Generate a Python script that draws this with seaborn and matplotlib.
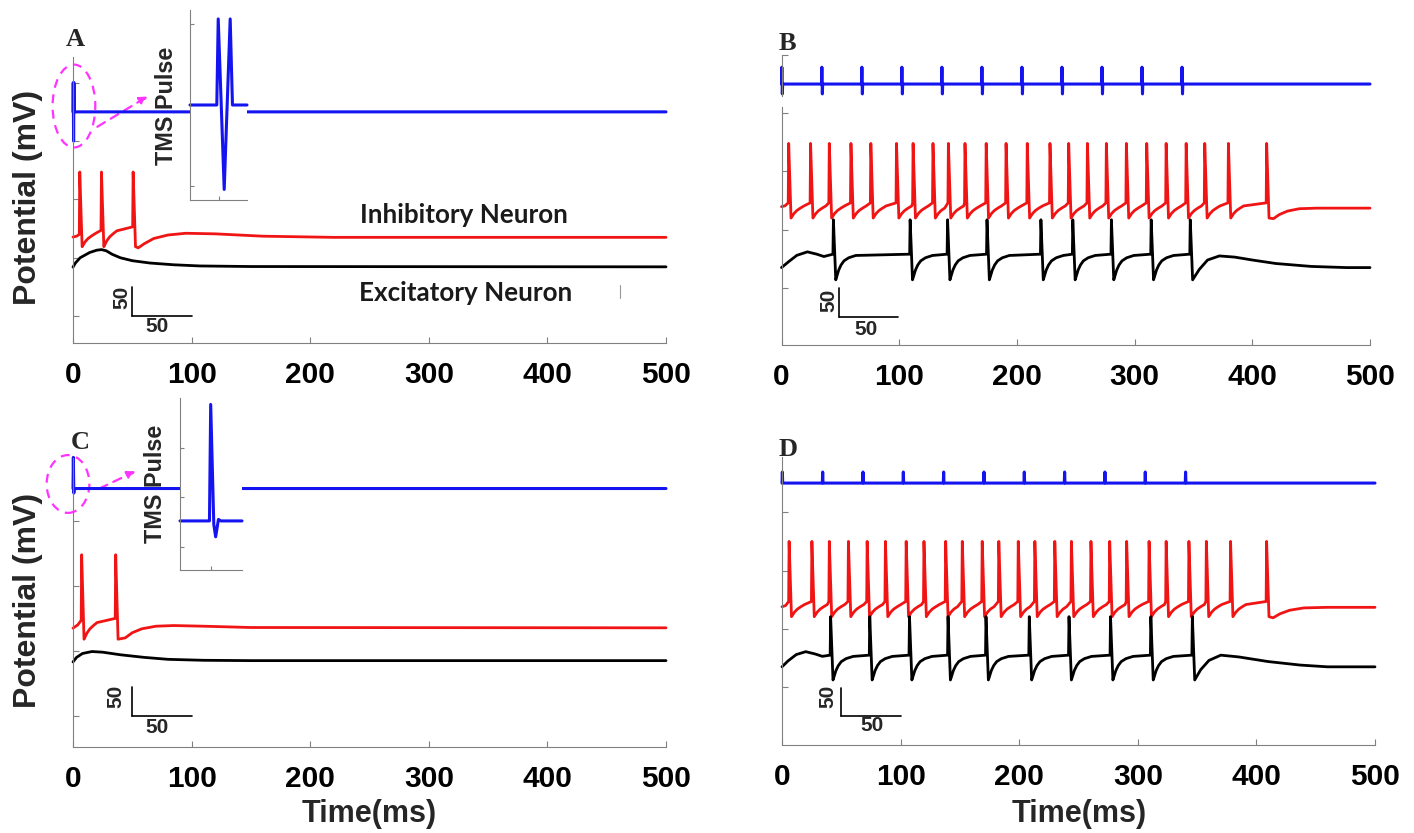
import numpy as np
import pandas as pd
import matplotlib

matplotlib.use("Agg")
import matplotlib.pyplot as plt
import seaborn as sns
from matplotlib.patches import Ellipse, FancyArrowPatch

# ---------------- values ----------------
T_END = 500
TIME_TICKS = [0, 100, 200, 300, 400, 500]

# TMS pulse onsets in the repetitive protocols (B, D), ms
pulse_times = [0, 34, 68, 102, 136, 170, 204, 238, 272, 306, 340]
b_pulse_up, b_pulse_down = 29, -17      # biphasic ticks in B
d_pulse_base, d_pulse_up = 350, 369     # monophasic ticks in D

# single pulse (A, C) on the main axes
a_tms_t = [0, 0.2, 0.5, 0.8, 1.0, T_END]
a_tms_v = [350, 400, 300, 400, 350, 350]
c_tms_t = [0, 0.3, 0.7, 1.0, T_END]
c_tms_v = [350, 398, 343, 350, 350]

# zoomed pulse shapes shown in the insets (arbitrary units)
ins_a_t = [0, 9.4, 9.9, 12.0, 14.1, 14.9, 20]
ins_a_v = [0, 0, 1.06, -1.04, 1.06, 0, 0]
ins_c_t = [0, 9.5, 9.9, 10.9, 11.5, 12.4, 13.2, 20]
ins_c_v = [-0.48, -0.48, 1.87, -0.55, -0.8, -0.45, -0.48, -0.48]

# inhibitory neuron (red)
a_inh_spikes = [5.7, 24.0, 50.7]
a_inh_pre = [140, 147, 153]
a_inh_head = [(3, 137)]
a_inh_tail = [(55, 117), (60, 124), (68, 133), (80, 139), (95, 142),
              (120, 141), (160, 137), (220, 135), (500, 135)]
c_inh_spikes = [7.3, 36.0]
c_inh_pre = [147, 150]
c_inh_head = [(4, 140)]
c_inh_tail = [(44, 120), (50, 128), (58, 134), (70, 138), (85, 139),
              (110, 138), (150, 136), (500, 135.5)]
b_inh_spikes = [6.1, 24.7, 40.6, 59.0, 75.9, 97.7, 111.8, 128.7, 141.8,
                155.9, 173.9, 190.8, 208.8, 228.1, 244.0, 259.9, 276.0,
                293.0, 310.3, 326.8, 343.8, 359.6, 379.7, 412.2]
b_inh_head = [(3, 141)]
b_inh_tail = [(418, 119), (423, 126), (430, 132), (440, 136), (455, 137),
              (500, 137)]
d_inh_spikes = [6.0, 25.2, 39.9, 56.0, 71.8, 87.2, 104.7, 119.7, 138.0,
                152.0, 168.8, 182.8, 199.2, 213.2, 230.0, 244.0, 260.5,
                276.3, 290.6, 309.5, 323.9, 343.1, 357.8, 378.2, 408.6]
d_inh_head = [(3, 140)]
d_inh_tail = [(414, 119), (420, 126), (428, 132), (440, 136), (460, 137),
              (500, 137)]
inh_start = {"A": 135.5, "B": 139.5, "C": 135, "D": 138}
inh_peak = {"A": 247, "B": 248, "C": 248, "D": 250}
inh_trough = {"A": 119, "B": 120, "C": 118, "D": 121}
inh_pre = {"B": 146, "D": 147}

# excitatory neuron (black)
a_exc_t = [0, 2, 6, 14, 20, 24, 28, 33, 40, 50, 65, 85, 107, 150, 500]
a_exc_v = [84, 91, 100, 109, 113, 114, 112, 106, 100, 95, 91, 88, 86, 85, 84.5]
c_exc_t = [0, 3, 8, 16, 25, 40, 60, 80, 110, 150, 500]
c_exc_v = [83, 90, 96, 99, 98, 94, 90, 87, 85.5, 85, 85]
b_exc_spikes = [44.1, 109.3, 141.1, 174.6, 220.4, 247.5, 280.3, 314.1, 347.3]
b_exc_head = [(6, 45), (13, 56), (22, 62), (30, 58), (36, 54)]
b_exc_tail = [(355, 32), (362, 48), (372, 55), (385, 53), (400, 48),
              (420, 42), (450, 37), (480, 35), (500, 35)]
d_exc_spikes = [41.0, 74.0, 107.5, 140.0, 172.0, 208.5, 242.0, 277.0,
                311.0, 346.0]
d_exc_head = [(5, 45), (12, 56), (20, 61), (28, 57), (34, 53)]
d_exc_tail = [(353, 30), (360, 46), (370, 55), (385, 52), (410, 44),
              (437, 38), (460, 35), (500, 35)]
exc_start = {"B": 35, "D": 35}
exc_peak = {"B": 117, "D": 121}
exc_trough = {"B": 14, "D": 12.5}
exc_plateau = {"B": 58, "D": 55}

# recovery after a spike: (ms after spike, fraction of the way back)
inh_rise = [(3.0, 0.12), (4.5, 0.3), (7, 0.5), (10, 0.66), (13, 0.8)]
exc_rise = [(3.0, 0.15), (4.5, 0.38), (6.5, 0.58), (9, 0.74), (13, 0.86),
            (19, 0.95)]

RED, BLUE, BLACK = "#f01414", "#1414f0", "#000000"
MAGENTA = "#ff33ff"
GREY = "#808080"


def spike_train(spikes, start, peak, trough, pre, head, tail, rise):
    pres = pre if isinstance(pre, list) else [pre] * len(spikes)
    t, v = [0.0], [start]
    t += [p[0] for p in head]
    v += [p[1] for p in head]
    for i, ts in enumerate(spikes):
        t += [ts - 0.4, ts, ts + 2.0]
        v += [pres[i], peak, trough]
        if i + 1 == len(spikes):
            break
        nxt, nxt_pre = spikes[i + 1], pres[i + 1]
        for dt, frac in rise:
            if ts + dt < nxt - 1.0:
                t.append(ts + dt)
                v.append(trough + frac * (nxt_pre - trough))
    t += [p[0] for p in tail]
    v += [p[1] for p in tail]
    return t, v


def pulse_train(times, base, up, down=None):
    t, v = [0.0], [base]
    for tp in times:
        if down is None:
            t += [tp, tp + 0.3, tp + 0.6]
            v += [base, up, base]
        else:
            t += [tp, tp + 0.3, tp + 0.7, tp + 1.0]
            v += [base, up, down, base]
    t.append(T_END)
    v.append(base)
    return t, v


def trace(ax, t, v, color, lw=2.0):
    df = pd.DataFrame({"t": t, "v": v})
    sns.lineplot(data=df, x="t", y="v", ax=ax, color=color, lw=lw,
                 estimator=None, sort=False, clip_on=False)
    ax.set_xlabel("")
    ax.set_ylabel("")


sns.set_theme(style="ticks")
plt.rcParams["font.family"] = ["Liberation Sans", "DejaVu Sans"]
plt.rcParams["font.weight"] = "bold"

W, H = 1414, 833
fig = plt.figure(figsize=(W / 100, H / 100), dpi=100)


def px_axes(l, t, r, b):
    return fig.add_axes([l / W, 1 - b / H, (r - l) / W, (b - t) / H])


def style(ax, ylim, yticks, xaxis=True):
    sns.despine(ax=ax)
    ax.set_xlim(0, T_END)
    ax.set_ylim(*ylim)
    ax.set_yticks(yticks)
    ax.set_yticklabels([])
    for s in ["left", "bottom"]:
        ax.spines[s].set_color(GREY)
        ax.spines[s].set_linewidth(0.8)
    ax.tick_params(direction="in", length=4, width=0.8, color=GREY,
                   labelsize=21.5, pad=13, labelcolor="black")
    if xaxis:
        ax.set_xticks(TIME_TICKS)
        ax.set_xticklabels([str(x) for x in TIME_TICKS], fontweight="bold")
    else:
        ax.spines["bottom"].set_visible(False)
        ax.set_xticks([])


def scale_bar(ax, x0, y0, dy, lab_v, lab_h):
    ax.plot([x0, x0], [y0, y0 + dy], color=BLACK, lw=1.2, clip_on=False)
    ax.plot([x0, x0 + 50], [y0, y0], color=BLACK, lw=1.2, clip_on=False)
    ax.text(lab_v[0], lab_v[1], "50", rotation=90, ha="center", va="center",
            fontsize=15, fontweight="bold")
    ax.text(lab_h[0], lab_h[1], "50", ha="center", va="center",
            fontsize=15, fontweight="bold")


def inset(l, t, r, b, ylim, tt, vv, xtick):
    ax = px_axes(l, t, r, b)
    ax.set_facecolor("white")
    sns.despine(ax=ax)
    trace(ax, tt, vv, BLUE, lw=2.2)
    ax.set_xlim(0, 20)
    ax.set_ylim(*ylim)
    ax.set_yticks([-1, 0, 1])
    ax.set_xticks([xtick])
    ax.set_xticklabels([])
    ax.set_yticklabels([])
    for s in ["left", "bottom"]:
        ax.spines[s].set_color(GREY)
        ax.spines[s].set_linewidth(0.8)
    ax.tick_params(direction="in", length=3, width=0.8, color=GREY)
    return ax


def magnify(ax, centre, w, h, start, end):
    ax.add_patch(Ellipse(centre, w, h, fill=False, ec=MAGENTA, lw=1.6,
                         ls=(0, (4, 3)), clip_on=False))
    ax.add_patch(FancyArrowPatch(start, end, arrowstyle="-|>",
                                 mutation_scale=12, color=MAGENTA, lw=1.6,
                                 ls=(0, (4, 3)), clip_on=False))


label_font = dict(ha="center", va="center", fontsize=18.7, fontweight="bold",
                  family=["Lato", "DejaVu Sans"], color="#1a1a1a")

# ---------------- panel A ----------------
axA = px_axes(73, 57, 666, 343)
trace(axA, a_tms_t, a_tms_v, BLUE, lw=2.2)
trace(axA, *spike_train(a_inh_spikes, inh_start["A"], inh_peak["A"],
                        inh_trough["A"], a_inh_pre, a_inh_head, a_inh_tail,
                        inh_rise), RED)
trace(axA, a_exc_t, a_exc_v, BLACK)
style(axA, (-46, 444), [0, 100, 200, 300, 400])
scale_bar(axA, 50, 0, 50, (41, 32), (71, -18))
axA.text(330, 173, "Inhibitory Neuron", **label_font)
axA.text(331, 39, "Excitatory Neuron", **label_font)
axA.plot([461, 461], [31, 53], color="#999999", lw=0.8)
magnify(axA, (0.8, 360), 36, 142, (18.5, 322), (65, 379))
inset(190, 10, 247, 200, (-1.17, 1.17), ins_a_t, ins_a_v, 10)

# ---------------- panel C ----------------
axC = px_axes(73, 458, 666, 747)
trace(axC, c_tms_t, c_tms_v, BLUE, lw=2.2)
trace(axC, *spike_train(c_inh_spikes, inh_start["C"], inh_peak["C"],
                        inh_trough["C"], c_inh_pre, c_inh_head, c_inh_tail,
                        inh_rise), RED)
trace(axC, c_exc_t, c_exc_v, BLACK)
style(axC, (-48, 397), [0, 100, 200, 300])
scale_bar(axC, 50, 0, 45, (36, 30), (70.6, -18.5))
magnify(axC, (-4.2, 357), 36, 89, (20, 348), (54.8, 378.5))
inset(180, 398, 242, 570, (-1.47, 2.0), ins_c_t, ins_c_v, 10)

# ---------------- panel B ----------------
axB0 = px_axes(781.5, 55, 1370, 96)
trace(axB0, *pulse_train(pulse_times, 0, b_pulse_up, b_pulse_down), BLUE,
      lw=2.2)
style(axB0, (-20.6, 50), [0, 50], xaxis=False)

axB = px_axes(781.5, 107, 1370, 345)
trace(axB, *spike_train(b_inh_spikes, inh_start["B"], inh_peak["B"],
                        inh_trough["B"], inh_pre["B"], b_inh_head, b_inh_tail,
                        inh_rise), RED)
trace(axB, *spike_train(b_exc_spikes, exc_start["B"], exc_peak["B"],
                        exc_trough["B"], exc_plateau["B"], b_exc_head,
                        b_exc_tail, exc_rise), BLACK)
style(axB, (-97.8, 310.5), [0, 100, 200, 300])
scale_bar(axB, 49, -50, 50, (40, -21), (72, -72))

# ---------------- panel D ----------------
axD = px_axes(782, 457, 1375, 745)
trace(axD, *pulse_train(pulse_times, d_pulse_base, d_pulse_up), BLUE, lw=2.2)
trace(axD, *spike_train(d_inh_spikes, inh_start["D"], inh_peak["D"],
                        inh_trough["D"], inh_pre["D"], d_inh_head, d_inh_tail,
                        inh_rise), RED)
trace(axD, *spike_train(d_exc_spikes, exc_start["D"], exc_peak["D"],
                        exc_trough["D"], exc_plateau["D"], d_exc_head,
                        d_exc_tail, exc_rise), BLACK)
style(axD, (-99, 394.7), [0, 100, 200, 300])
scale_bar(axD, 50, -49, 48, (39, -16), (76, -65))

# ---------------- figure texts ----------------
serif = ["Liberation Serif", "DejaVu Serif"]
for lab, x, y in [("A", 75, 40), ("B", 787, 43), ("C", 80, 443), ("D", 788, 449)]:
    fig.text(x / W, 1 - y / H, lab, ha="center", va="center", fontsize=19,
             fontweight="bold", family=serif)
for y in [197, 600]:
    fig.text(28 / W, 1 - y / H, "Potential (mV)", rotation=90, ha="center",
             va="center", fontsize=23, fontweight="bold")
for x, y in [(166.5, 106), (155.3, 484)]:
    fig.text(x / W, 1 - y / H, "TMS Pulse", rotation=90, ha="center",
             va="center", fontsize=16.8, fontweight="bold")
for x in [369, 1079]:
    fig.text(x / W, 1 - 814 / H, "Time(ms)", ha="center", va="center",
             fontsize=22, fontweight="bold")

fig.savefig("out.png", dpi=100)
